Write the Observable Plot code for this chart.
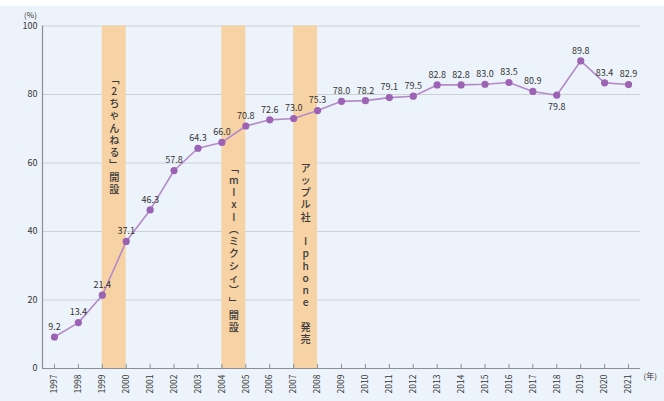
<!DOCTYPE html>
<html><head><meta charset="utf-8">
<script src="https://cdn.jsdelivr.net/npm/d3@7"></script>
<script src="https://cdn.jsdelivr.net/npm/@observablehq/plot@0.6"></script>
<style>
html,body{margin:0;padding:0;background:#fff;}
#wrap{padding-top:6px;width:664px;}
#chart svg{display:block;background:#edf3fa;}
</style></head>
<body><div id="wrap"><div id="chart"></div></div>
<script>
const years = [1997,1998,1999,2000,2001,2002,2003,2004,2005,2006,2007,2008,2009,2010,2011,2012,2013,2014,2015,2016,2017,2018,2019,2020,2021];
const values = [9.2,13.4,21.4,37.1,46.3,57.8,64.3,66.0,70.8,72.6,73.0,75.3,78.0,78.2,79.1,79.5,82.8,82.8,83.0,83.5,80.9,79.8,89.8,83.4,82.9];
const yTicks = [0,20,40,60,80,100];
const eventStart = [1999,2004,2007];
const eventEnd = [2000,2005,2008];
const eventText = [
  ["﹁","2","ち","ゃ","ん","ね","る","﹂","開","設"],
  ["﹁","m","I","x","I","︵","ミ","ク","シ","ィ","︶","﹂","開","設"],
  ["ア","ッ","プ","ル","社"," ","I","p","h","o","n","e"," ","発","売"]
];
const eventTop = [86, 60, 60];

const data = years.map((y,i)=>({year:y, value:values[i]}));
const events = eventStart.map((s,i)=>({x1:s, x2:eventEnd[i], label:eventText[i].join("\n"), top:eventTop[i]}));

const font = "'Noto Sans CJK JP', 'Noto Sans', sans-serif";
const chart = Plot.plot({
  width: 664,
  height: 395,
  marginLeft: 42,
  marginRight: 24,
  marginTop: 19.5,
  marginBottom: 33,
  style: {fontFamily: font, background: "#edf3fa"},
  x: {domain: [1996.5, 2021.5]},
  y: {domain: [0, 100]},
  marks: [
    Plot.ruleY(yTicks.filter(d=>d>0), {stroke: "#cdd1d7", strokeWidth: 1.2}),
    Plot.rect(events, {x1: "x1", x2: "x2", y1: 0, y2: 100, fill: "#f6d2a4"}),
    Plot.text(events, {x: d=>(d.x1+d.x2)/2, y: "top", text: "label", lineAnchor: "top", lineHeight: 1.2, fontSize: 10.2, fill: "#3a3a3a", fontWeight: 500}),
    Plot.ruleY([0], {stroke: "#8a8f96", strokeWidth: 1.2}),
    Plot.ruleX([1996.5], {y1: 0, y2: 100, stroke: "#8a8f96", strokeWidth: 1.2}),
    Plot.ruleX(years, {x: d=>d, y1: 0, y2: 1.2, stroke: "#8a8f96"}),
    Plot.axisY({ticks: yTicks, tickSize: 0, tickPadding: 5, fontSize: 9, fill: "#333", label: null}),
    Plot.axisX({ticks: years, tickFormat: d=>String(d), tickRotate: -90, tickSize: 0, tickPadding: 6, fontSize: 8.5, fill: "#333", label: null}),
    Plot.text(["(%)"], {x: 1996.5, y: 100, dx: -12, dy: -11, fontSize: 8, fill: "#333"}),
    Plot.text(["(年)"], {x: 2021.5, y: 0, dx: 3, dy: 8, textAnchor: "start", fontSize: 8, fill: "#333"}),
    Plot.line(data, {x: "year", y: "value", stroke: "#b48bc8", strokeWidth: 1.6}),
    Plot.dot(data, {x: "year", y: "value", r: 3.6, fill: "#9c62b3", stroke: "none"}),
    Plot.text(data.filter(d=>d.year!==2018), {x: "year", y: "value", text: d=>d.value.toFixed(1), dy: -10, fontSize: 9, fill: "#333"}),
    Plot.text(data.filter(d=>d.year===2018), {x: "year", y: "value", text: d=>d.value.toFixed(1), dy: 12, fontSize: 9, fill: "#333"})
  ]
});
document.getElementById("chart").appendChild(chart);
</script>
</body></html>
